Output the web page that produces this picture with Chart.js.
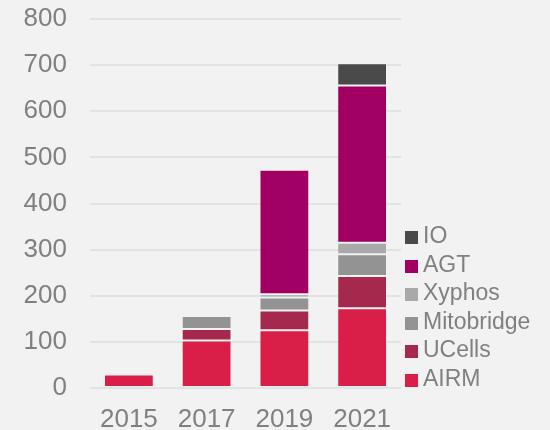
<!DOCTYPE html>
<html>
<head>
<meta charset="utf-8">
<script src="https://cdn.jsdelivr.net/npm/chart.js@4/dist/chart.umd.min.js"></script>
<style>
  html, body { margin: 0; padding: 0; background: #f2f2f2; }
  #wrap { width: 550px; height: 430px; position: relative; }
  #legend { position: absolute; left: 405px; top: 221px; font-family: 'Liberation Sans', Arial, sans-serif;
            font-size: 23px; color: #808080; }
  #legend div { height: 28.6px; line-height: 28.6px; white-space: nowrap; }
  #legend span { display: inline-block; width: 13px; height: 13px; margin-right: 5px; vertical-align: -1px; }
</style>
</head>
<body>
<div id="wrap"><canvas id="chart1"></canvas><div id="legend"></div></div>
<script>
// years on the x axis
var years = ["2015", "2017", "2019", "2021"];

// series values (stacked, bottom to top)
var airm       = [29, 103, 125, 173];
var ucells     = [0, 25, 43, 70];
var mitobridge = [0, 28, 28, 47];
var xyphos     = [0, 0, 7, 25];
var agt        = [0, 0, 270, 341];
var io         = [0, 0, 0, 48];

var yTicks = [0, 100, 200, 300, 400, 500, 600, 700, 800];

var textGrey = "#808080";
var font = "'Liberation Sans', Arial, sans-serif";

function serie(label, values, color) {
    return {
        label: label,
        data: values,
        backgroundColor: color,
        borderColor: "rgba(255,255,255,0.12)",
        borderWidth: 1,
        borderSkipped: false,
        barPercentage: 0.64,
        categoryPercentage: 1.0
    };
}

var ctx = document.getElementById("chart1").getContext("2d");
var chart = new Chart(ctx, {
    type: "bar",
    data: {
        labels: years,
        datasets: [
            serie("AIRM", airm, "#d91f48"),
            serie("UCells", ucells, "#a5294c"),
            serie("Mitobridge", mitobridge, "#939393"),
            serie("Xyphos", xyphos, "#a9a9ab"),
            serie("AGT", agt, "#a10062"),
            serie("IO", io, "#4a4a4a")
        ]
    },
    options: {
        responsive: true,
        maintainAspectRatio: false,
        animation: false,
        layout: { padding: { top: 0, right: 149, left: 0, bottom: 0 } },
        plugins: {
            tooltip: { enabled: false },
            legend: { display: false } // legende faite en html a droite
        },
        scales: {
            x: {
                stacked: true,
                grid: { display: false, drawTicks: false },
                border: { display: false },
                afterFit: function(scale) { scale.height = 42; },
                ticks: {
                    color: textGrey,
                    padding: 16,
                    font: { family: font, size: 26 }
                }
            },
            y: {
                stacked: true,
                min: 0,
                max: 800,
                afterBuildTicks: function(scale) {
                    scale.ticks = yTicks.map(function(v) { return { value: v }; });
                },
                afterFit: function(scale) {
                    scale.width = 90;
                    scale.paddingTop = 19; // sinon le padding des ticks s'ajoute en haut/bas
                    scale.paddingBottom = 16;
                },
                grid: { color: "#e3e3e3", lineWidth: 2, drawTicks: false },
                border: { display: false },
                ticks: {
                    color: textGrey,
                    padding: 23,
                    font: { family: font, size: 26 }
                }
            }
        }
    }
});

// legende : ordre inverse (IO en haut)
var legend = document.getElementById("legend");
chart.data.datasets.slice().reverse().forEach(function(ds) {
    var row = document.createElement("div");
    var box = document.createElement("span");
    box.style.background = ds.backgroundColor;
    row.appendChild(box);
    row.appendChild(document.createTextNode(ds.label));
    legend.appendChild(row);
});
</script>
</body>
</html>
